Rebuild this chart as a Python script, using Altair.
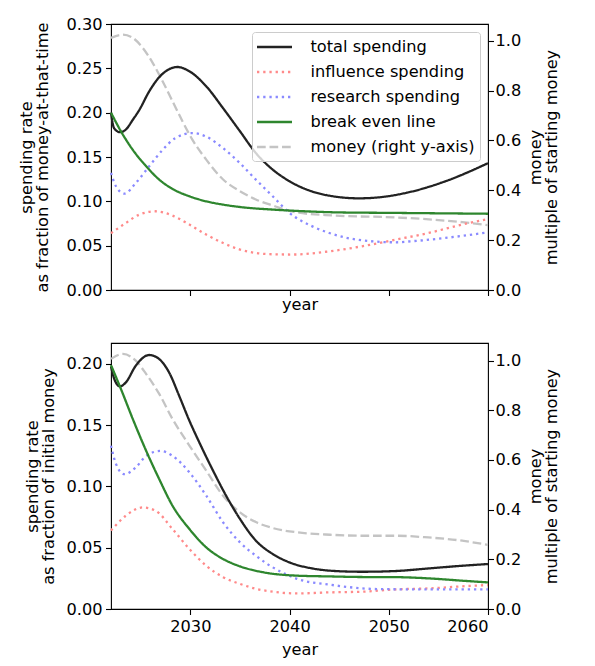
import altair as alt
import pandas as pd

FONT = "DejaVu Sans"
FS = 16.2

SERIES = ["total spending", "influence spending", "research spending",
          "break even line", "money (right y-axis)"]
COLORS = ["#222222", "#ff8a8a", "#8a8aff", "#2e862e", "#c4c4c4"]
DASHES = [[1, 0], [2.3, 3.9], [2.3, 3.9], [1, 0], [8.7, 3.8]]

# ---------------- top panel (fraction of money-at-that-time) ----------------
top_total_years = [2022.0, 2022.3, 2022.9, 2023.5, 2024.2, 2024.85, 2025.85, 2026.86, 2027.86,
                   2028.7, 2029.9, 2031.6, 2033.3, 2035.0, 2036.6, 2038.3, 2040.0, 2042.3,
                   2044.0, 2047.0, 2049.0, 2052.3, 2055.7, 2060.0]
top_total = [0.200, 0.1827, 0.178, 0.181, 0.192, 0.203, 0.224, 0.240, 0.249,
             0.2515, 0.2467, 0.2297, 0.205, 0.179, 0.1545, 0.1358, 0.1226, 0.111,
             0.1064, 0.1034, 0.1045, 0.111, 0.1226, 0.143]

top_infl_years = [2022.0, 2023.5, 2024.85, 2026.5, 2028.2, 2029.9, 2031.6, 2033.3, 2035.0,
                  2036.6, 2038.3, 2040.3, 2044.0, 2047.3, 2050.7, 2054.0, 2057.4, 2060.0]
top_infl = [0.064, 0.0756, 0.085, 0.0888, 0.0839, 0.0738, 0.0625, 0.053, 0.0456,
            0.0417, 0.0403, 0.040, 0.0436, 0.0493, 0.0568, 0.0643, 0.0738, 0.080]

top_res_years = [2022.0, 2022.5, 2023.35, 2024.5, 2025.85, 2027.2, 2028.5, 2030.2, 2031.6,
                 2033.3, 2035.0, 2036.6, 2038.3, 2040.0, 2042.3, 2044.0, 2047.3, 2050.7,
                 2052.3, 2055.7, 2060.0]
top_res = [0.132, 0.117, 0.1087, 0.1207, 0.1395, 0.158, 0.1714, 0.177, 0.173,
           0.160, 0.143, 0.1245, 0.1057, 0.0868, 0.0718, 0.0643, 0.056, 0.0538,
           0.055, 0.0587, 0.065]

top_be_years = [2022.0, 2023.0, 2024.2, 2025.55, 2026.86, 2028.2, 2029.9, 2031.6, 2033.3,
                2035.0, 2038.3, 2041.1, 2045.0, 2050.0, 2055.0, 2060.0]
top_be = [0.200, 0.179, 0.158, 0.1395, 0.1245, 0.114, 0.1057, 0.100, 0.0963,
          0.0936, 0.0907, 0.089, 0.0875, 0.087, 0.0865, 0.086]

top_money_years = [2022.0, 2023.2, 2024.2, 2025.2, 2026.2, 2027.2, 2028.2, 2029.2, 2030.2,
                   2031.6, 2033.3, 2035.0, 2036.6, 2038.3, 2040.6, 2044.3, 2050.7, 2054.5,
                   2057.4, 2060.0]
top_money = [1.011, 1.024, 1.011, 0.971, 0.911, 0.837, 0.757, 0.677, 0.603,
             0.523, 0.443, 0.396, 0.363, 0.339, 0.312, 0.299, 0.291, 0.282,
             0.272, 0.260]

# ---------------- bottom panel (fraction of initial money) ----------------
bot_total_years = [2022.0, 2022.33, 2022.9, 2023.5, 2024.5, 2025.85, 2026.86, 2027.86, 2028.87,
                   2029.9, 2030.9, 2032.2, 2033.6, 2035.0, 2036.6, 2038.3, 2040.0, 2042.3,
                   2044.6, 2047.3, 2050.7, 2054.0, 2057.4, 2060.0]
bot_total = [0.198, 0.1878, 0.1817, 0.185, 0.1986, 0.2073, 0.204, 0.193, 0.174,
             0.1537, 0.136, 0.1143, 0.0925, 0.0735, 0.0558, 0.0449, 0.038, 0.0331,
             0.031, 0.0304, 0.031, 0.0331, 0.0353, 0.0367]

bot_infl_years = [2022.0, 2023.5, 2025.2, 2026.5, 2028.2, 2029.9, 2031.6, 2033.3, 2035.0,
                  2036.6, 2038.3, 2040.8, 2044.1, 2047.3, 2050.7, 2054.0, 2057.4, 2060.0]
bot_infl = [0.064, 0.0762, 0.0829, 0.0802, 0.0653, 0.049, 0.0353, 0.026, 0.0205,
            0.0165, 0.0141, 0.0127, 0.0136, 0.0141, 0.016, 0.0168, 0.0185, 0.0196]

bot_res_years = [2022.0, 2022.5, 2023.35, 2024.5, 2025.55, 2027.0, 2028.2, 2029.9, 2031.6,
                 2033.3, 2035.0, 2036.6, 2038.3, 2039.8, 2040.8, 2044.1, 2048.8, 2054.0,
                 2060.0]
bot_res = [0.1333, 0.1184, 0.110, 0.1156, 0.125, 0.129, 0.125, 0.1115, 0.0925,
           0.0707, 0.0544, 0.0435, 0.034, 0.0278, 0.0245, 0.0198, 0.0163, 0.016,
           0.016]

bot_be_years = [2022.0, 2023.0, 2024.2, 2025.55, 2026.86, 2028.2, 2029.9, 2031.6, 2033.3,
                2035.0, 2037.4, 2040.8, 2044.0, 2047.3, 2050.7, 2054.0, 2057.4, 2060.0]
bot_be = [0.199, 0.1796, 0.155, 0.129, 0.106, 0.0843, 0.0653, 0.0503, 0.0408,
          0.0348, 0.0299, 0.0272, 0.0266, 0.0261, 0.026, 0.025, 0.0231, 0.0217]

bot_money_years = [2022.0, 2023.2, 2024.5, 2025.55, 2026.86, 2028.2, 2029.9, 2031.6, 2033.3,
                   2035.0, 2036.6, 2038.3, 2040.8, 2044.1, 2047.3, 2050.7, 2054.0, 2057.4,
                   2060.0]
bot_money = [1.007, 1.027, 1.0, 0.946, 0.866, 0.765, 0.658, 0.557, 0.456,
             0.389, 0.35, 0.326, 0.3085, 0.299, 0.295, 0.295, 0.288, 0.275,
             0.258]

X_TICKS = [2030, 2040, 2050, 2060]
RIGHT_TICKS = [0.0, 0.2, 0.4, 0.6, 0.8, 1.0]


def frame(pairs):
    rows = []
    for name, years, vals in pairs:
        for i, (yr, v) in enumerate(zip(years, vals)):
            rows.append({"series": name, "year": yr, "value": v, "order": i})
    return pd.DataFrame(rows)


def panel(left_pairs, money_pair, left_title, left_domain, left_ticks, right_domain,
          show_xlabels, show_legend, left_title_pad, x_title_pad):
    if show_legend:
        leg = alt.Legend(title=None, orient="top-right", offset=8, symbolType="M-2,0H2",
                         symbolSize=306, symbolStrokeWidth=2.3, symbolOffset=7.5,
                         labelFontSize=FS, labelFont=FONT, labelColor="black",
                         labelOffset=26, labelLimit=400,
                         fillColor="rgba(255,255,255,0.8)",
                         strokeColor="#cccccc", cornerRadius=3, padding=5,
                         rowPadding=6, zindex=2)
    else:
        leg = None
    color = alt.Color("series:N", scale=alt.Scale(domain=SERIES, range=COLORS), legend=leg)
    dash = alt.StrokeDash("series:N", scale=alt.Scale(domain=SERIES, range=DASHES), legend=leg)
    x = alt.X("year:Q",
              scale=alt.Scale(domain=[2022, 2060], nice=False, zero=False),
              axis=alt.Axis(values=X_TICKS, format="d", labels=show_xlabels, title="year",
                            titlePadding=x_title_pad, tickSize=5.5, labelPadding=3.5))
    left = alt.Chart(frame(left_pairs)).mark_line(interpolate="monotone", strokeWidth=2.3).encode(
        x=x,
        y=alt.Y("value:Q",
                scale=alt.Scale(domain=left_domain, nice=False, zero=True),
                axis=alt.Axis(values=left_ticks, format=".2f", title=left_title,
                              titlePadding=left_title_pad, tickSize=5.5, labelPadding=3.5)),
        color=color, strokeDash=dash, order="order:Q",
    )
    right = alt.Chart(frame([money_pair])).mark_line(interpolate="monotone", strokeWidth=2.3).encode(
        x=x,
        y=alt.Y("value:Q",
                scale=alt.Scale(domain=right_domain, nice=False, zero=True),
                axis=alt.Axis(orient="right", values=RIGHT_TICKS, format=".1f",
                              title=["money", "multiple of starting money"],
                              titleAngle=270, titleBaseline="top", titlePadding=-9,
                              tickSize=5.5, labelPadding=1.5)),
        color=color, strokeDash=dash, order="order:Q",
    )
    return alt.layer(right, left).resolve_scale(y="independent").properties(width=377, height=266)


top = panel(
    [(SERIES[0], top_total_years, top_total),
     (SERIES[1], top_infl_years, top_infl),
     (SERIES[2], top_res_years, top_res),
     (SERIES[3], top_be_years, top_be)],
    (SERIES[4], top_money_years, top_money),
    ["spending rate", "as fraction of money-at-that-time"],
    [0, 0.30], [0, 0.05, 0.10, 0.15, 0.20, 0.25, 0.30], [0, 1.0667],
    False, True, 15, 0)

bottom = panel(
    [(SERIES[0], bot_total_years, bot_total),
     (SERIES[1], bot_infl_years, bot_infl),
     (SERIES[2], bot_res_years, bot_res),
     (SERIES[3], bot_be_years, bot_be)],
    (SERIES[4], bot_money_years, bot_money),
    ["spending rate", "as fraction of initial money"],
    [0, 0.2171], [0, 0.05, 0.10, 0.15, 0.20], [0, 1.071],
    True, False, 9, 7)

chart = alt.vconcat(top, bottom, spacing=29).resolve_scale(
    color="independent", strokeDash="independent"
).resolve_legend(
    color="independent", strokeDash="independent"
).properties(
    padding={"left": 10, "top": 7, "right": 4, "bottom": 4}
).configure_view(
    stroke="black", strokeWidth=1.1
).configure_axis(
    labelFont=FONT, titleFont=FONT, labelFontSize=FS, titleFontSize=FS,
    titleFontWeight="normal", labelColor="black", titleColor="black",
    tickColor="black", tickWidth=1.1, grid=False, domain=False, titleLineHeight=16
).configure_legend(
    labelFont=FONT, labelFontSize=FS, labelColor="black"
)

chart.save("out.html", embed_options={"renderer": "svg", "actions": False})
